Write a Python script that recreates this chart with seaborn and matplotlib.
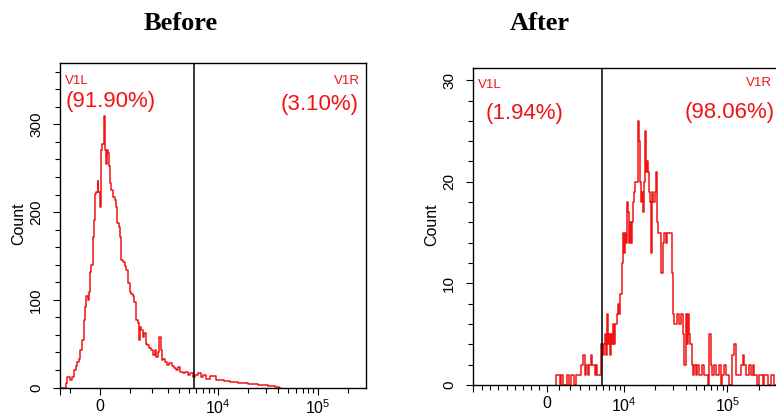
import numpy as np
import matplotlib
matplotlib.use("Agg")
import matplotlib.pyplot as plt
from matplotlib.ticker import FixedLocator
import seaborn as sns

# histogram data: display channel (0-1023) and event count
before_channel = [0, 16, 21, 29, 36, 43, 49, 55, 60, 66, 71, 77, 82, 86, 91, 96, 99, 103, 107, 112,
                  116, 119, 124, 127, 130, 135, 136, 140, 144, 147, 150, 153, 156, 158, 162, 164, 168,
                  174, 180, 185, 189, 194, 198, 203, 207, 213, 219, 225, 230, 235, 241, 246, 252, 257,
                  263, 266, 270, 274, 279, 283, 289, 294, 301, 307, 313, 319, 324, 330, 334, 338, 342,
                  348, 354, 361, 369, 378, 383, 391, 398, 406, 414, 422, 431, 439, 447, 456, 467, 475,
                  484, 492, 510, 535, 560, 578, 610, 645, 680, 712, 725, 740]
before_count = [0, 0, 5, 12, 9, 12, 20, 24, 29, 33, 43, 54, 77, 92, 104, 100, 109, 132, 140, 172,
                191, 221, 223, 235, 223, 206, 244, 271, 278, 305, 309, 271, 255, 271, 267, 252, 233,
                225, 217, 214, 206, 187, 183, 172, 145, 143, 138, 134, 119, 109, 107, 104, 98, 77,
                73, 54, 69, 66, 58, 62, 50, 48, 45, 43, 37, 43, 35, 41, 58, 43, 31,
                33, 29, 26, 28, 24, 22, 20, 23, 18, 16, 18, 14, 17, 12, 14, 16, 12,
                14, 10, 13, 8, 7, 6, 5, 4, 3, 2, 1, 0]

after_channel = [276, 282, 288, 293, 298, 304, 311, 319, 324, 330, 335, 341, 347, 352, 358, 363, 367,
                 371, 376, 380, 386, 391, 397, 400, 405, 409, 413, 419, 425, 430, 436, 439, 442, 446,
                 449, 452, 456, 459, 462, 466, 469, 474, 478, 483, 486, 489, 493, 496, 499, 503, 506,
                 509, 513, 516, 519, 523, 526, 529, 533, 536, 539, 543, 546, 549, 553, 556, 559, 563,
                 566, 569, 573, 576, 579, 583, 586, 589, 593, 596, 599, 603, 606, 610, 614, 617, 623,
                 627, 633, 636, 642, 647, 653, 659, 664, 668, 672, 675, 681, 686, 692, 698, 703, 709,
                 712, 717, 721, 725, 729, 732, 737, 742, 748, 753, 759, 764, 770, 776, 781, 787, 792,
                 798, 803, 809, 815, 820, 826, 831, 837, 842, 848, 854, 859, 870, 876, 881, 887, 893,
                 898, 904, 909, 915, 920, 926, 932, 937, 943, 948, 954, 959, 965, 971, 976, 982, 993,
                 998, 1004, 1010, 1023]
after_count = [0, 1, 1, 0, 1, 0, 0, 1, 0, 1, 1, 0, 1, 1, 1, 2, 2,
               3, 1, 2, 1, 2, 3, 2, 2, 1, 2, 1, 1, 4, 3, 4, 5, 3,
               7, 4, 5, 3, 5, 4, 6, 4, 6, 7, 8, 7, 9, 9, 12, 15, 13,
               15, 14, 18, 17, 14, 16, 14, 16, 18, 19, 20, 20, 20, 26, 24, 20, 18,
               19, 17, 20, 25, 21, 22, 21, 19, 18, 13, 19, 18, 18, 19, 21, 16, 15,
               15, 11, 14, 15, 14, 15, 15, 15, 11, 7, 6, 6, 7, 6, 7, 5, 2,
               7, 4, 7, 5, 4, 2, 1, 2, 1, 2, 1, 1, 2, 1, 1, 0, 5,
               2, 1, 2, 1, 1, 2, 0, 1, 2, 1, 1, 0, 3, 4, 1, 1, 1,
               2, 3, 2, 1, 1, 2, 1, 2, 1, 1, 0, 1, 1, 0, 1, 1, 0,
               1, 1, 0, 0]

titles = ["Before", "After"]
before_labels = ["(91.90%)", "(3.10%)"]
after_labels = ["(1.94%)", "(98.06%)"]
before_gate = 448
after_gate = 431

RED = "#f01414"

sns.set_style("ticks")
plt.rcParams['font.family'] = ['Liberation Sans', 'DejaVu Sans']
plt.rcParams['mathtext.fontset'] = 'custom'
plt.rcParams['mathtext.rm'] = 'Liberation Sans'
plt.rcParams['text.color'] = 'black'
plt.rcParams['axes.labelcolor'] = 'black'


# biexponential-ish display: channel position of an intensity value
def before_scale(v):
    return 134 + 334.3 * np.arcsinh(np.asarray(v, dtype=float) / 1324) / np.log(10)


def after_scale(v):
    return 247 + 351.0 * np.arcsinh(np.asarray(v, dtype=float) / 3810) / np.log(10)


decade_minors = [k * 1000 for k in range(1, 10)] + [k * 10000 for k in range(2, 10)] + [200000]

fig = plt.figure(figsize=(7.76, 4.19), dpi=100)
ax1 = fig.add_axes([60 / 776, 31.5 / 419, 306 / 776, 324.5 / 419])
ax2 = fig.add_axes([473 / 776, 34 / 419, 306 / 776, 317 / 419])

sns.lineplot(x=before_channel, y=before_count, ax=ax1, color=RED, lw=1.1,
             drawstyle='steps-mid', errorbar=None)
sns.lineplot(x=after_channel, y=after_count, ax=ax2, color=RED, lw=1.1,
             drawstyle='steps-mid', errorbar=None)

ax1.axvline(before_gate, color='black', lw=1.1)
ax2.axvline(after_gate, color='black', lw=1.1)

ax1.set_xlim(0, 1023)
ax1.set_ylim(0, 370)
ax2.set_xlim(0, 1023)
ax2.set_ylim(0, 31.2)

tick_text = ['', '0', r'$\mathregular{10^4}$', r'$\mathregular{10^5}$']

ax1.set_xticks([0] + list(before_scale([0, 1e4, 1e5])))
ax1.set_xticklabels(tick_text)
ax1.xaxis.set_minor_locator(FixedLocator(list(before_scale([-1000] + decade_minors))))

ax2.set_xticks([0] + list(after_scale([0, 1e4, 1e5])))
ax2.set_xticklabels(tick_text)
neg_ticks = [247 - 27 * k for k in range(1, 9)]
ax2.xaxis.set_minor_locator(FixedLocator(neg_ticks + list(after_scale(decade_minors))))

ax1.set_yticks([0, 100, 200, 300])
ax1.yaxis.set_minor_locator(FixedLocator(list(range(0, 371, 20))))
ax2.set_yticks([0, 10, 20, 30])
ax2.yaxis.set_minor_locator(FixedLocator(list(range(0, 32, 2))))

for ax in (ax1, ax2):
    for s in ax.spines.values():
        s.set_color('black')
        s.set_linewidth(1.0)
    ax.tick_params(which='both', direction='out', color='black', labelcolor='black', width=0.8)
    ax.tick_params(which='major', length=5)
    ax.tick_params(which='minor', length=3.5)
    ax.tick_params(axis='x', which='major', labelsize=11.5, pad=3)
    ax.tick_params(axis='y', which='major', labelsize=11, pad=7)
    for lab in ax.get_yticklabels():
        lab.set_rotation(90)
        lab.set_va('center')
    ax.set_xlabel('')
    ax.set_ylabel('Count', fontsize=11.5, color='black')
    ax.yaxis.set_label_coords(-0.11, 0.505)

# gate names and percentages
ax1.text(0.016, 0.945, 'V1L', transform=ax1.transAxes, color=RED, fontsize=9.5, va='center')
ax1.text(0.02, 0.88, before_labels[0], transform=ax1.transAxes, color=RED, fontsize=16, va='center')
ax1.text(0.98, 0.945, 'V1R', transform=ax1.transAxes, color=RED, fontsize=9.5, va='center', ha='right')
ax1.text(0.975, 0.872, before_labels[1], transform=ax1.transAxes, color=RED, fontsize=16,
         va='center', ha='right')

ax2.text(0.016, 0.946, 'V1L', transform=ax2.transAxes, color=RED, fontsize=9.5, va='center')
ax2.text(0.04, 0.858, after_labels[0], transform=ax2.transAxes, color=RED, fontsize=16, va='center')
ax2.text(0.977, 0.953, 'V1R', transform=ax2.transAxes, color=RED, fontsize=9.5, va='center', ha='right')
ax2.text(0.987, 0.861, after_labels[1], transform=ax2.transAxes, color=RED, fontsize=16,
         va='center', ha='right')

fig.text(181 / 776, 1 - 24 / 419, titles[0], fontfamily='Liberation Serif', fontweight='bold',
         fontsize=19, ha='center', va='center', color='black')
fig.text(540 / 776, 1 - 24 / 419, titles[1], fontfamily='Liberation Serif', fontweight='bold',
         fontsize=19, ha='center', va='center', color='black')

fig.savefig('out.png', dpi=100)
